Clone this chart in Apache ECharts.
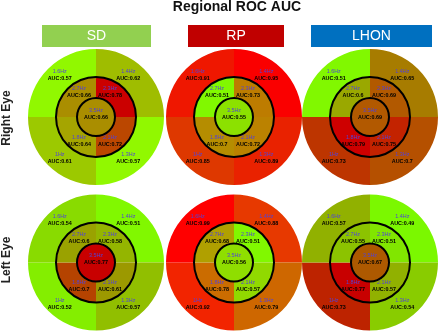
<!DOCTYPE html>
<html>
<head>
<meta charset="utf-8">
<script src="https://cdn.jsdelivr.net/npm/echarts@6/dist/echarts.min.js"></script>
<style>
  html, body { margin: 0; padding: 0; background: #fff; }
  #chart { width: 440px; height: 333px; }
</style>
</head>
<body>
<div id="chart"></div>
<script>
const diseases = ['SD', 'RP', 'LHON'];
const eyes = ['Right Eye', 'Left Eye'];
// quadrants: top-left, top-right, bottom-left, bottom-right
const outerFreqs = ['1.6Hz', '1.4Hz', '1Hz', '1.3Hz'];
const innerFreqs = ['2.7Hz', '2.3Hz', '1.8Hz', '2.1Hz'];
const centerFreq = '3.5Hz';
// one row per disease (SD, RP, LHON)
const rightOuterAuc = [[0.57, 0.62, 0.61, 0.57], [0.91, 0.95, 0.85, 0.89], [0.51, 0.65, 0.73, 0.7]];
const rightInnerAuc = [[0.66, 0.78, 0.64, 0.72], [0.51, 0.73, 0.7, 0.72], [0.6, 0.69, 0.79, 0.75]];
const rightCenterAuc = [0.66, 0.55, 0.69];
const leftOuterAuc = [[0.54, 0.51, 0.52, 0.57], [0.99, 0.88, 0.92, 0.79], [0.57, 0.49, 0.73, 0.54]];
const leftInnerAuc = [[0.6, 0.58, 0.7, 0.61], [0.68, 0.51, 0.78, 0.57], [0.55, 0.51, 0.77, 0.57]];
const leftCenterAuc = [0.77, 0.56, 0.67];

const headerColors = ['#92d050', '#c00000', '#0070c0'];
const cx = [96, 234, 370];
const cy = [117, 262.5];
const headerBox = [[42, 109], [188, 96], [311, 121]];
// pie goes clockwise from 12 o'clock: TR, BR, BL, TL
const pieOrder = [1, 3, 2, 0];
// nudge labels (pie order) so they sit like the original
const outerNudge = [[-8, -2], [-8, 1], [4, 1], [4, -2]];
const innerNudge = [[-9, -2], [-9, 1], [6, 1], [6, -2]];

// green (low) -> brown -> red (high), scaled within each panel
function aucColor(v, lo, hi) {
  const t = (v - lo) / (hi - lo);
  const r = Math.max(0, Math.min(255, Math.round(126 + (v - 0.5) * 275)));
  const g = Math.round(248 * (1 - t));
  return 'rgb(' + r + ',' + g + ',0)';
}

const labelRich = {
  f: { color: '#5242d6', fontSize: 5.4, lineHeight: 7, fontFamily: 'Liberation Sans' },
  v: { color: '#000', fontSize: 5.4, lineHeight: 7, fontWeight: 'bold', fontFamily: 'Liberation Sans' }
};

function labelText(p) {
  return '{f|' + p.name + '}\n{v|AUC:' + p.data.auc + '}';
}

function sliceData(freqs, aucs, lo, hi) {
  return pieOrder.map(function (q) {
    return {
      name: freqs[q],
      value: 1,
      auc: aucs[q],
      itemStyle: { color: aucColor(aucs[q], lo, hi) }
    };
  });
}

function nudge(list) {
  return function (params) {
    const n = list[params.dataIndex];
    return { dx: n[0], dy: n[1] };
  };
}

const series = [];
eyes.forEach(function (eye, e) {
  const outer = e === 0 ? rightOuterAuc : leftOuterAuc;
  const inner = e === 0 ? rightInnerAuc : leftInnerAuc;
  const center = e === 0 ? rightCenterAuc : leftCenterAuc;
  diseases.forEach(function (d, i) {
    const all = outer[i].concat(inner[i], [center[i]]);
    const lo = Math.min.apply(null, all);
    const hi = Math.max.apply(null, all);
    const common = {
      type: 'pie', center: [cx[i], cy[e]], startAngle: 90, silent: true,
      avoidLabelOverlap: false, labelLine: { show: false },
      emphasis: { disabled: true }
    };
    series.push(Object.assign({}, common, {
      name: eye + ' ' + d + ' outer', radius: [40, 68],
      label: { position: 'inside', formatter: labelText, rich: labelRich },
      labelLayout: nudge(outerNudge),
      data: sliceData(outerFreqs, outer[i], lo, hi)
    }));
    series.push(Object.assign({}, common, {
      name: eye + ' ' + d + ' inner', radius: [19, 40],
      label: { position: 'inside', formatter: labelText, rich: labelRich },
      labelLayout: nudge(innerNudge),
      data: sliceData(innerFreqs, inner[i], lo, hi)
    }));
    series.push(Object.assign({}, common, {
      name: eye + ' ' + d + ' center', radius: [0, 19],
      label: { position: 'center', formatter: labelText, rich: labelRich },
      labelLayout: { dy: -3 },
      data: [{ name: centerFreq, value: 1, auc: center[i], itemStyle: { color: aucColor(center[i], lo, hi) } }]
    }));
    // black ring outlines
    [[39, 41], [18, 20]].forEach(function (rr) {
      series.push(Object.assign({}, common, {
        radius: rr, label: { show: false }, z: 5,
        data: [{ value: 1, itemStyle: { color: '#000' } }]
      }));
    });
  });
});

const graphic = [{
  type: 'text', x: 237, y: 7,
  style: { text: 'Regional ROC AUC', textAlign: 'center', textVerticalAlign: 'middle',
    font: 'bold 14px "Liberation Sans"', fill: '#111' }
}];
diseases.forEach(function (d, i) {
  graphic.push({
    type: 'rect', shape: { x: headerBox[i][0], y: 25, width: headerBox[i][1], height: 22 },
    style: { fill: headerColors[i] }
  });
  graphic.push({
    type: 'text', x: headerBox[i][0] + headerBox[i][1] / 2, y: 36.5,
    style: { text: d, textAlign: 'center', textVerticalAlign: 'middle',
      font: '14px "Liberation Sans"', fill: '#fff' }
  });
});
eyes.forEach(function (eye, e) {
  graphic.push({
    type: 'text', x: 7, y: e === 0 ? 118 : 260, rotation: Math.PI / 2,
    style: { text: eye, textAlign: 'center', textVerticalAlign: 'middle',
      font: 'bold 12px "Liberation Sans"', fill: '#222' }
  });
});

const chart = echarts.init(document.getElementById('chart'));
chart.setOption({
  backgroundColor: '#fff',
  animation: false,
  graphic: graphic,
  series: series
});
</script>
</body>
</html>
